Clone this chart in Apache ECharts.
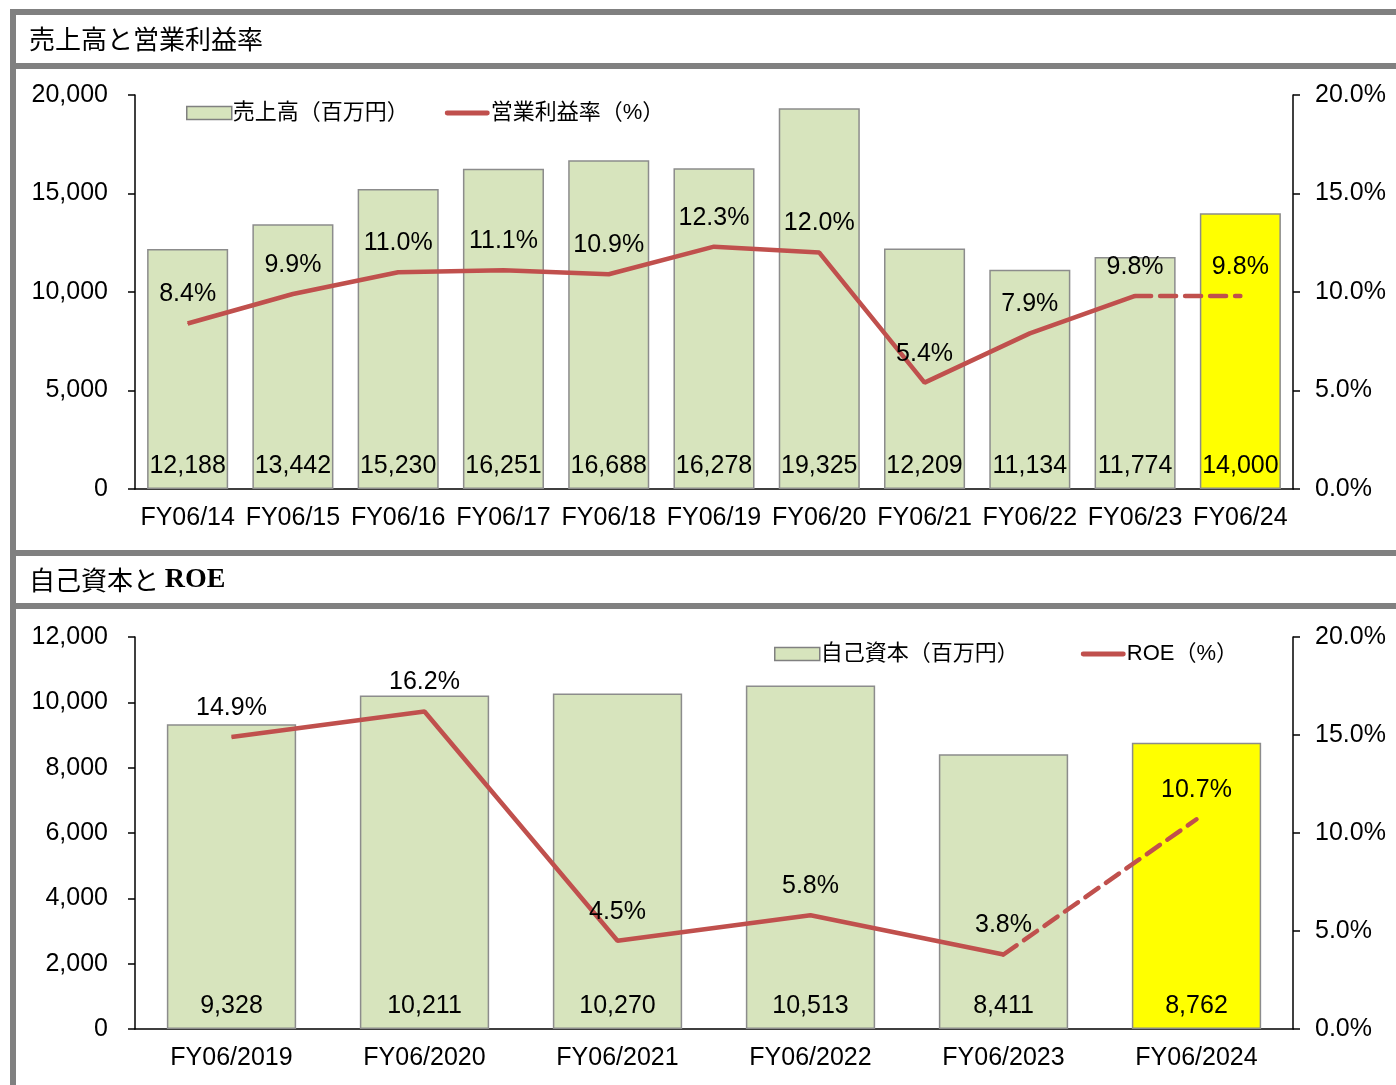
<!DOCTYPE html>
<html>
<head>
<meta charset="utf-8">
<script src="https://cdn.jsdelivr.net/npm/echarts@6/dist/echarts.min.js"></script>
<style>
  html, body { margin: 0; padding: 0; background: #fff; }
  #chart { width: 1396px; height: 1085px; }
</style>
</head>
<body>
<div id="chart"></div>
<script>
  // 売上高と営業利益率
  var years1 = ['FY06/14','FY06/15','FY06/16','FY06/17','FY06/18','FY06/19','FY06/20','FY06/21','FY06/22','FY06/23','FY06/24'];
  var sales = [12188, 13442, 15230, 16251, 16688, 16278, 19325, 12209, 11134, 11774, 14000];
  var margin = [8.4, 9.9, 11.0, 11.1, 10.9, 12.3, 12.0, 5.4, 7.9, 9.8, 9.8];
  var salesTicks = [0, 5000, 10000, 15000, 20000];

  // 自己資本と ROE
  var years2 = ['FY06/2019','FY06/2020','FY06/2021','FY06/2022','FY06/2023','FY06/2024'];
  var equity = [9328, 10211, 10270, 10513, 8411, 8762];
  var roe = [14.9, 16.2, 4.5, 5.8, 3.8, 10.7];
  var equityTicks = [0, 2000, 4000, 6000, 8000, 10000, 12000];
  var pctTicks = [0, 5, 10, 15, 20];

  var FONT = "'Liberation Sans', 'Noto Sans CJK JP', sans-serif";
  var GREEN = '#D7E4BD', YELLOW = '#FFFF00', RED = '#C0504D', BORDER = '#808080';
  var LINE_ICON = 'path://M2,0 L44,0 A2.5,2.5 0 0 1 44,5 L2,5 A2.5,2.5 0 0 1 2,0 Z';

  var myChart = echarts.init(document.getElementById('chart'));

  function fmt(v) { return Number(v).toLocaleString('en-US'); }

  // 最後の一本（予想）だけ黄色
  function barData(arr) {
    return arr.map(function (v, i) {
      return { value: v, itemStyle: { color: i === arr.length - 1 ? YELLOW : GREEN } };
    });
  }
  function solidPart(arr) {
    return arr.map(function (v, i) { return i < arr.length - 1 ? v : '-'; });
  }
  function dashPart(arr) {
    return arr.map(function (v, i) { return i >= arr.length - 2 ? v : '-'; });
  }

  function yLeft(grid, ticks) {
    return {
      type: 'value', gridIndex: grid, min: ticks[0], max: ticks[ticks.length - 1],
      interval: ticks[1] - ticks[0], position: 'left',
      splitLine: { show: false },
      axisLine: { show: true, lineStyle: { color: '#000', width: 1.5 } },
      axisTick: { show: true, length: 7, lineStyle: { color: '#000', width: 1.5 } },
      axisLabel: { margin: 27, color: '#000', fontSize: 25, fontFamily: FONT, formatter: fmt }
    };
  }
  function yRight(grid) {
    return {
      type: 'value', gridIndex: grid, min: pctTicks[0], max: pctTicks[pctTicks.length - 1],
      interval: pctTicks[1] - pctTicks[0], position: 'right',
      splitLine: { show: false },
      axisLine: { show: true, lineStyle: { color: '#000', width: 1.5 } },
      axisTick: { show: true, length: 7, lineStyle: { color: '#000', width: 1.5 } },
      axisLabel: { margin: 22, color: '#000', fontSize: 25, fontFamily: FONT,
        formatter: function (v) { return v.toFixed(1) + '%'; } }
    };
  }
  function xAxis(grid, cats) {
    return {
      type: 'category', gridIndex: grid, data: cats,
      axisLine: { lineStyle: { color: '#000', width: 1.5 } },
      axisTick: { length: 8, lineStyle: { color: '#000', width: 1.5 } },
      axisLabel: { margin: 17, color: '#000', fontSize: 25, fontFamily: FONT, interval: 0 }
    };
  }
  function lineLabel(onlyLast, n) {
    return {
      show: true, position: 'top', distance: 16, color: '#000', fontSize: 25, fontFamily: FONT,
      formatter: function (p) {
        if (onlyLast && p.dataIndex !== n - 1) return '';
        return p.value.toFixed(1) + '%';
      }
    };
  }

  myChart.setOption({
    animation: false,
    textStyle: { fontFamily: FONT },
    graphic: [
      // 枠線
      { type: 'rect', shape: { x: 10, y: 9, width: 1386, height: 6 }, style: { fill: BORDER } },
      { type: 'rect', shape: { x: 10, y: 9, width: 6, height: 1076 }, style: { fill: BORDER } },
      { type: 'rect', shape: { x: 10, y: 63, width: 1386, height: 6 }, style: { fill: BORDER } },
      { type: 'rect', shape: { x: 10, y: 550, width: 1386, height: 6 }, style: { fill: BORDER } },
      { type: 'rect', shape: { x: 10, y: 603, width: 1386, height: 6 }, style: { fill: BORDER } },
      { type: 'text', left: 29, top: 26,
        style: { text: '売上高と営業利益率', fill: '#000', font: "26px 'Noto Sans CJK JP', sans-serif" } },
      { type: 'text', left: 29, top: 566,
        style: { text: '{a|自己資本と }{b|ROE}', fill: '#000',
          rich: {
            a: { fontSize: 26, fontFamily: "'Noto Sans CJK JP', sans-serif", fill: '#000' },
            b: { fontSize: 28, fontWeight: 'bold', fontFamily: "'Liberation Serif', serif", fill: '#000' }
          } } }
    ],
    legend: [
      {
        left: 181, top: 97, itemGap: 36, itemWidth: 45, itemHeight: 13,
        textStyle: { fontSize: 22, color: '#000', fontFamily: FONT, padding: [0, 0, 0, -4] },
        data: [
          { name: '売上高（百万円）', icon: 'rect', itemStyle: { color: GREEN, borderColor: BORDER, borderWidth: 1.5 } },
          { name: '営業利益率（%）', icon: LINE_ICON, itemStyle: { color: RED, borderWidth: 0 } }
        ]
      },
      {
        left: 769, top: 638, itemGap: 62, itemWidth: 45, itemHeight: 13,
        textStyle: { fontSize: 22, color: '#000', fontFamily: FONT, padding: [0, 0, 0, -4] },
        data: [
          { name: '自己資本（百万円）', icon: 'rect', itemStyle: { color: GREEN, borderColor: BORDER, borderWidth: 1.5 } },
          { name: 'ROE（%）', icon: LINE_ICON, itemStyle: { color: RED, borderWidth: 0 } }
        ]
      }
    ],
    grid: [
      { left: 135, right: 103, top: 95, height: 394 },
      { left: 135, right: 103, top: 637, height: 392 }
    ],
    xAxis: [xAxis(0, years1), xAxis(1, years2)],
    yAxis: [yLeft(0, salesTicks), yRight(0), yLeft(1, equityTicks), yRight(1)],
    series: [
      {
        name: '売上高（百万円）', type: 'bar', xAxisIndex: 0, yAxisIndex: 0,
        data: barData(sales), barWidth: '77%',
        itemStyle: { borderColor: '#8C8C8C', borderWidth: 1.5 },
        label: { show: true, position: 'insideBottom', distance: 10, color: '#000', fontSize: 25,
          formatter: function (p) { return fmt(p.value); } }
      },
      {
        name: '営業利益率（%）', type: 'line', xAxisIndex: 0, yAxisIndex: 1,
        data: solidPart(margin), symbol: 'circle', symbolSize: 1, z: 5,
        itemStyle: { color: RED }, lineStyle: { color: RED, width: 4.5 },
        label: lineLabel(false, margin.length)
      },
      {
        name: '営業利益率予想', type: 'line', xAxisIndex: 0, yAxisIndex: 1,
        data: dashPart(margin), symbol: 'circle', symbolSize: 1, z: 5,
        itemStyle: { color: RED }, lineStyle: { color: RED, width: 4.5, type: [16, 9], cap: 'round' },
        label: lineLabel(true, margin.length)
      },
      {
        name: '自己資本（百万円）', type: 'bar', xAxisIndex: 1, yAxisIndex: 2,
        data: barData(equity), barWidth: '67%',
        itemStyle: { borderColor: '#8C8C8C', borderWidth: 1.5 },
        label: { show: true, position: 'insideBottom', distance: 10, color: '#000', fontSize: 25,
          formatter: function (p) { return fmt(p.value); } }
      },
      {
        name: 'ROE（%）', type: 'line', xAxisIndex: 1, yAxisIndex: 3,
        data: solidPart(roe), symbol: 'circle', symbolSize: 1, z: 5,
        itemStyle: { color: RED }, lineStyle: { color: RED, width: 4.5 },
        label: lineLabel(false, roe.length)
      },
      {
        name: 'ROE予想', type: 'line', xAxisIndex: 1, yAxisIndex: 3,
        data: dashPart(roe), symbol: 'circle', symbolSize: 1, z: 5,
        itemStyle: { color: RED }, lineStyle: { color: RED, width: 4.5, type: [16, 9], cap: 'round' },
        label: lineLabel(true, roe.length)
      }
    ]
  });
</script>
</body>
</html>
